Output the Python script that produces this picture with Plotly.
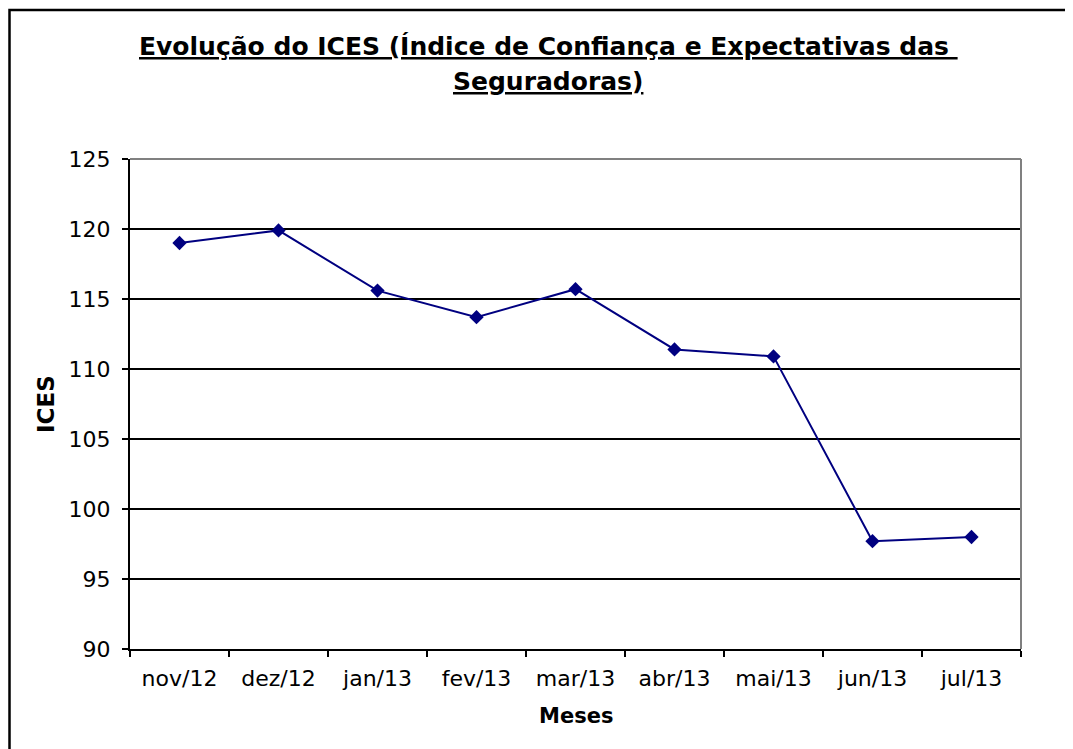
import plotly.graph_objects as go

months = ["nov/12", "dez/12", "jan/13", "fev/13", "mar/13", "abr/13", "mai/13", "jun/13", "jul/13"]
ices = [119.0, 119.9, 115.6, 113.7, 115.7, 111.4, 110.9, 97.7, 98.0]
y_ticks = [90, 95, 100, 105, 110, 115, 120, 125]

title_line1 = "Evolução do ICES (Índice de Confiança e Expectativas das&nbsp;"
title_line2 = "Seguradoras)"
x_title = "Meses"
y_title = "ICES"

FONT = "DejaVu Sans, Verdana, sans-serif"
OFF = 8  # page body margin offset
W, H = 1073 - OFF, 749 - OFF
L, T = 130 - OFF, 159 - OFF
R = W - (1021 - OFF)
B = H - (649 - OFF)
pw, ph = W - L - R, H - T - B

def px_x(x):
    return (x - OFF - L) / pw

def px_y(y):
    return (H - B - (y - OFF)) / ph

fig = go.Figure()
fig.add_trace(go.Scatter(
    x=months, y=ices, mode="lines+markers",
    line=dict(color="#000080", width=2),
    marker=dict(symbol="diamond", size=11, color="#000080"),
    showlegend=False, cliponaxis=False,
))

fig.update_layout(
    width=W, height=H,
    margin=dict(l=L, r=R, t=T, b=B, pad=0),
    paper_bgcolor="white", plot_bgcolor="white",
    font=dict(family=FONT, size=22, color="black"),
    xaxis=dict(
        type="category", tickson="boundaries", ticks="outside",
        ticklen=6, tickwidth=1.5, tickcolor="black",
        showline=True, linecolor="black", linewidth=2,
        showgrid=False, zeroline=False,
        tickfont=dict(family=FONT, size=22, color="black"),
        ticklabelstandoff=9,
        range=[-0.5, len(months) - 0.5],
    ),
    yaxis=dict(
        range=[90, 125], tickvals=y_ticks, ticks="outside",
        ticklen=6, tickwidth=1.5, tickcolor="black",
        showline=True, linecolor="black", linewidth=2,
        showgrid=True, gridcolor="black", gridwidth=1.5,
        zeroline=False,
        tickfont=dict(family=FONT, size=22, color="black"),
        ticklabelstandoff=7,
    ),
    shapes=[
        dict(type="line", xref="paper", yref="paper", x0=0, x1=1, y0=1, y1=1,
             line=dict(color="#808080", width=2), layer="above"),
        dict(type="line", xref="paper", yref="paper", x0=1, x1=1, y0=0, y1=1,
             line=dict(color="#808080", width=2), layer="above"),
        dict(type="rect", xref="paper", yref="paper",
             x0=px_x(OFF + 1.5), x1=px_x(1073 + 30), y0=px_y(749 + 30), y1=px_y(10),
             line=dict(color="black", width=2.5), layer="above"),
    ],
    annotations=[
        dict(text="<b><u>" + title_line1 + "</u></b>", xref="paper", yref="paper",
             x=px_x(548), y=px_y(47), xanchor="center", yanchor="middle",
             showarrow=False, font=dict(family=FONT, size=25, color="black")),
        dict(text="<b><u>" + title_line2 + "</u></b>", xref="paper", yref="paper",
             x=px_x(548), y=px_y(82), xanchor="center", yanchor="middle",
             showarrow=False, font=dict(family=FONT, size=25, color="black")),
        dict(text="<b>" + x_title + "</b>", xref="paper", yref="paper",
             x=0.5, y=px_y(716), xanchor="center", yanchor="middle",
             showarrow=False, font=dict(family=FONT, size=21, color="black")),
        dict(text="<b>" + y_title + "</b>", xref="paper", yref="paper",
             x=px_x(46), y=0.5, xanchor="center", yanchor="middle", textangle=-90,
             showarrow=False, font=dict(family=FONT, size=23, color="black")),
    ],
)

fig.write_html("out.html")
